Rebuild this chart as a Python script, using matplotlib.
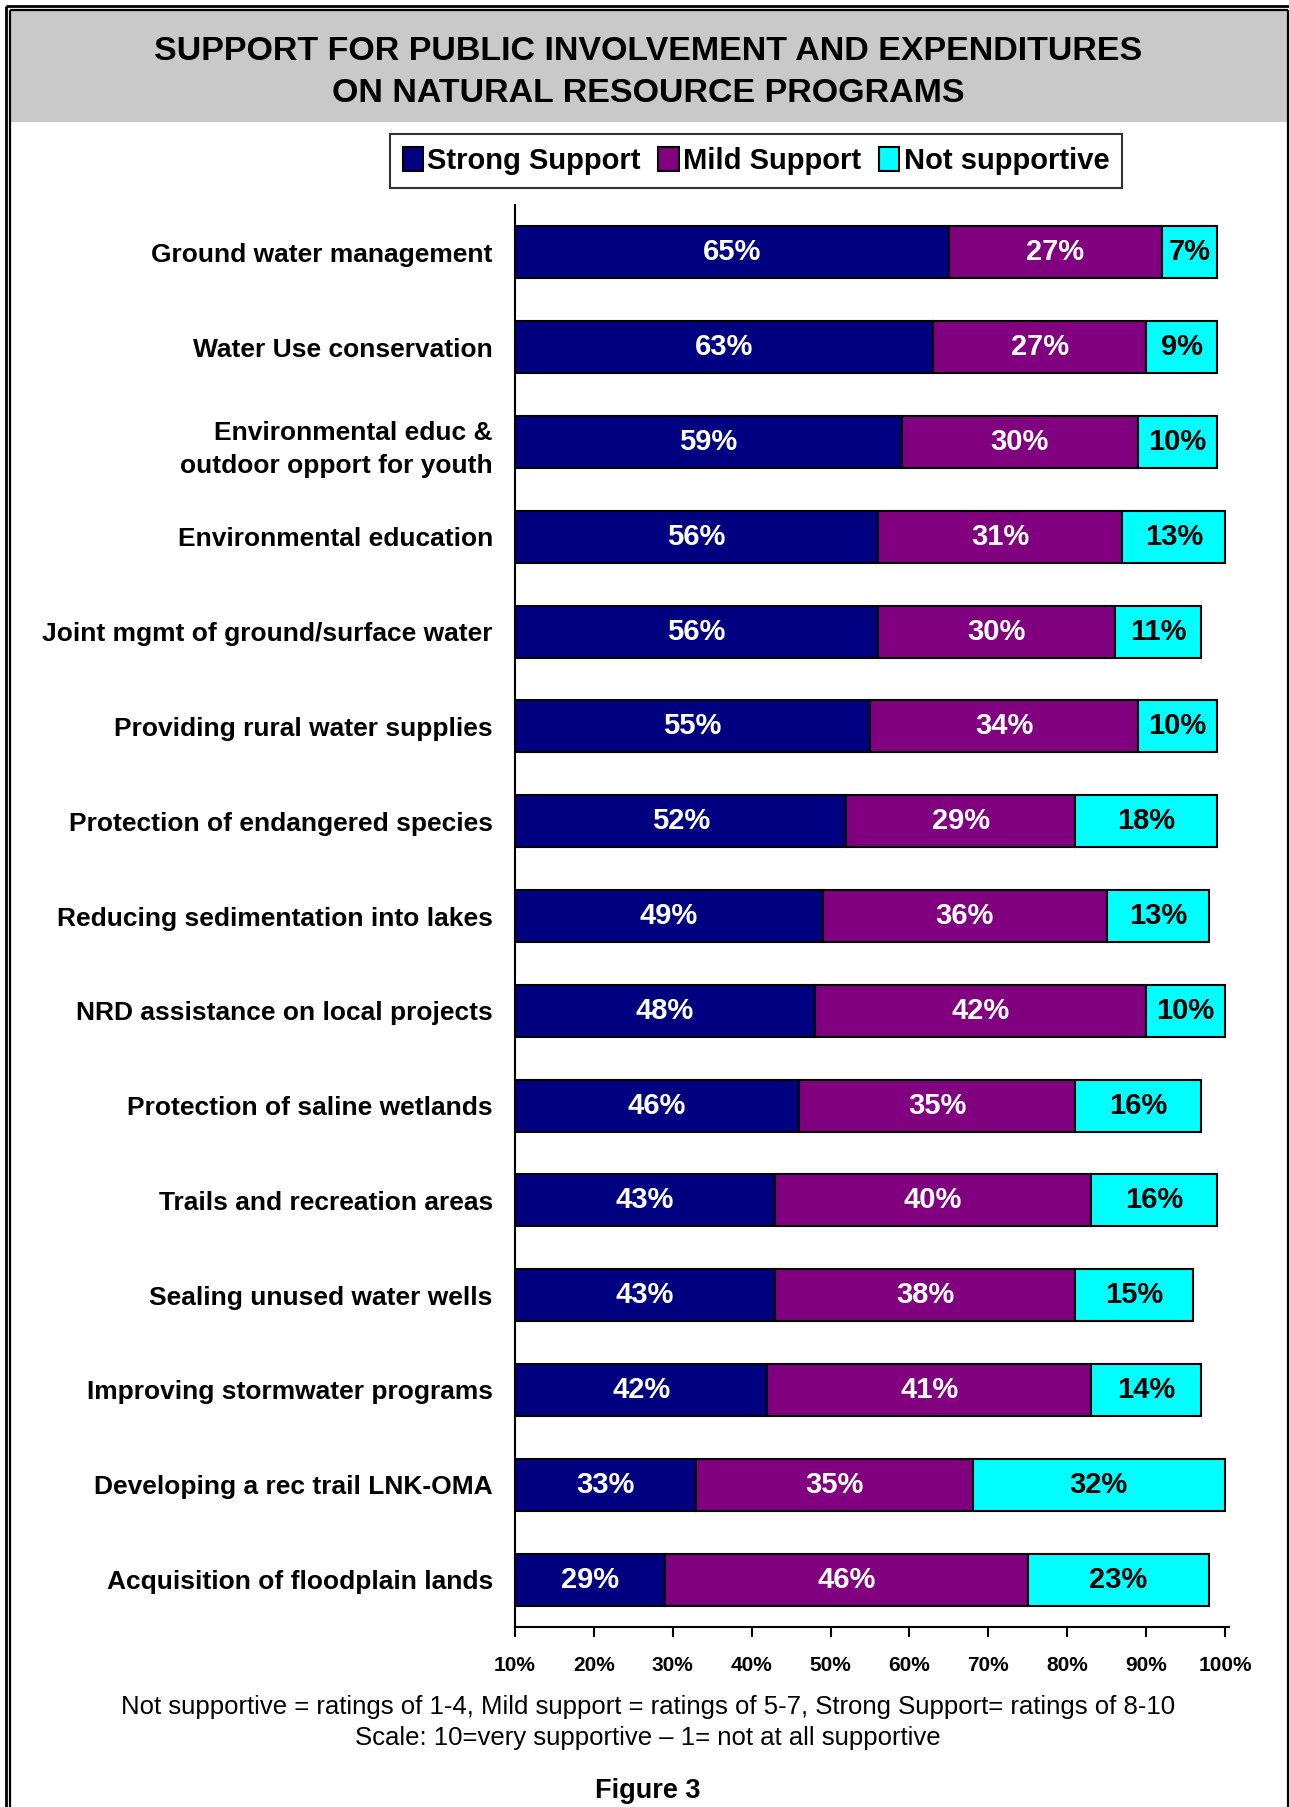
import matplotlib.pyplot as plt
from matplotlib.patches import Rectangle
from matplotlib.lines import Line2D

programs = [
    "Ground water management",
    "Water Use conservation",
    "Environmental educ &\noutdoor opport for youth",
    "Environmental education",
    "Joint mgmt of ground/surface water",
    "Providing rural water supplies",
    "Protection of endangered species",
    "Reducing sedimentation into lakes",
    "NRD assistance on local projects",
    "Protection of saline wetlands",
    "Trails and recreation areas",
    "Sealing unused water wells",
    "Improving stormwater programs",
    "Developing a rec trail LNK-OMA",
    "Acquisition of floodplain lands",
]
strong = [65, 63, 59, 56, 56, 55, 52, 49, 48, 46, 43, 43, 42, 33, 29]
mild = [27, 27, 30, 31, 30, 34, 29, 36, 42, 35, 40, 38, 41, 35, 46]
not_supp = [7, 9, 10, 13, 11, 10, 18, 13, 10, 16, 16, 15, 14, 32, 23]

series_names = ["Strong Support", "Mild Support", "Not supportive"]
colors = ["#000080", "#800080", "#00FFFF"]
text_colors = ["white", "white", "black"]
x_ticks = [10, 20, 30, 40, 50, 60, 70, 80, 90, 100]

plt.rcParams['font.family'] = ['Liberation Sans', 'DejaVu Sans']

W, H = 1289, 1807
fig = plt.figure(figsize=(W / 100, H / 100), dpi=100)


def fx(x):
    return x / W


def fy(y):
    return 1 - y / H


# page frame: double rule on top/left, single on the right, grey title band
fig.add_artist(Rectangle((fx(10), fy(122)), fx(1287) - fx(10), fy(11) - fy(122),
                         transform=fig.transFigure, facecolor="#C9C9C9", edgecolor="none"))
for xs, ys, lw in [([6, 6], [6, H], 2.0), ([6, W], [6, 6], 2.0),
                   ([9.5, 9.5], [10, H], 1.6), ([9.5, 1288], [10, 10], 1.6),
                   ([1288, 1288], [10, H], 1.6)]:
    fig.add_artist(Line2D([fx(v) for v in xs], [fy(v) for v in ys],
                          transform=fig.transFigure, color="black", lw=lw,
                          solid_capstyle="butt"))

fig.text(fx(648), fy(52), "SUPPORT FOR PUBLIC INVOLVEMENT AND EXPENDITURES",
         ha="center", va="center", fontsize=24.5, fontweight="bold")
fig.text(fx(648), fy(93), "ON NATURAL RESOURCE PROGRAMS",
         ha="center", va="center", fontsize=24.5, fontweight="bold")

ax = fig.add_axes([fx(515), fy(1627), fx(1229) - fx(515), fy(205) - fy(1627)])

y = list(range(len(programs)))
lefts = [0] * len(programs)
handles = []
for vals, name, col, tcol in zip([strong, mild, not_supp], series_names, colors, text_colors):
    bars = ax.barh(y, vals, left=lefts, height=0.55, color=col,
                   edgecolor="black", linewidth=1.5, label=name)
    handles.append(bars)
    for yi, lo, v in zip(y, lefts, vals):
        lo_vis = max(lo, 10)
        ax.text((lo_vis + lo + v) / 2, yi, f"{v}%", ha="center", va="center",
                color=tcol, fontsize=21, fontweight="bold")
    lefts = [a + b for a, b in zip(lefts, vals)]

ax.set_xlim(10, 100.5)
ax.set_ylim(len(programs) - 0.5, -0.5)
ax.set_xticks(x_ticks)
ax.set_xticklabels([f"{t}%" for t in x_ticks], fontsize=15, fontweight="bold")
ax.set_yticks(y)
ax.set_yticklabels(programs, fontsize=19, fontweight="bold", linespacing=1.5)
ax.tick_params(axis="y", length=0, pad=16)
ax.tick_params(axis="x", length=7, width=1.5, pad=14, direction="out")
for s in ["top", "right"]:
    ax.spines[s].set_visible(False)
ax.spines["left"].set_linewidth(1.5)
ax.spines["bottom"].set_linewidth(1.5)

leg = fig.legend(handles=handles, labels=series_names, loc="center",
                 bbox_to_anchor=(fx(756), fy(161)), ncol=3, frameon=True,
                 fancybox=False, edgecolor="black", handlelength=0.7,
                 handleheight=0.9, handletextpad=0.15, columnspacing=0.6,
                 borderpad=0.45, prop={"weight": "bold", "size": 21})
leg.get_frame().set_linewidth(1.5)

fig.text(fx(648), fy(1707),
         "Not supportive = ratings of 1-4, Mild support = ratings of 5-7, Strong Support= ratings of 8-10",
         ha="center", va="center", fontsize=18.5)
fig.text(fx(648), fy(1738), "Scale: 10=very supportive \u2013 1= not at all supportive",
         ha="center", va="center", fontsize=18.5)
fig.text(fx(648), fy(1791), "Figure 3", ha="center", va="center",
         fontsize=19.5, fontweight="bold")

fig.savefig("out.png", dpi=100)
